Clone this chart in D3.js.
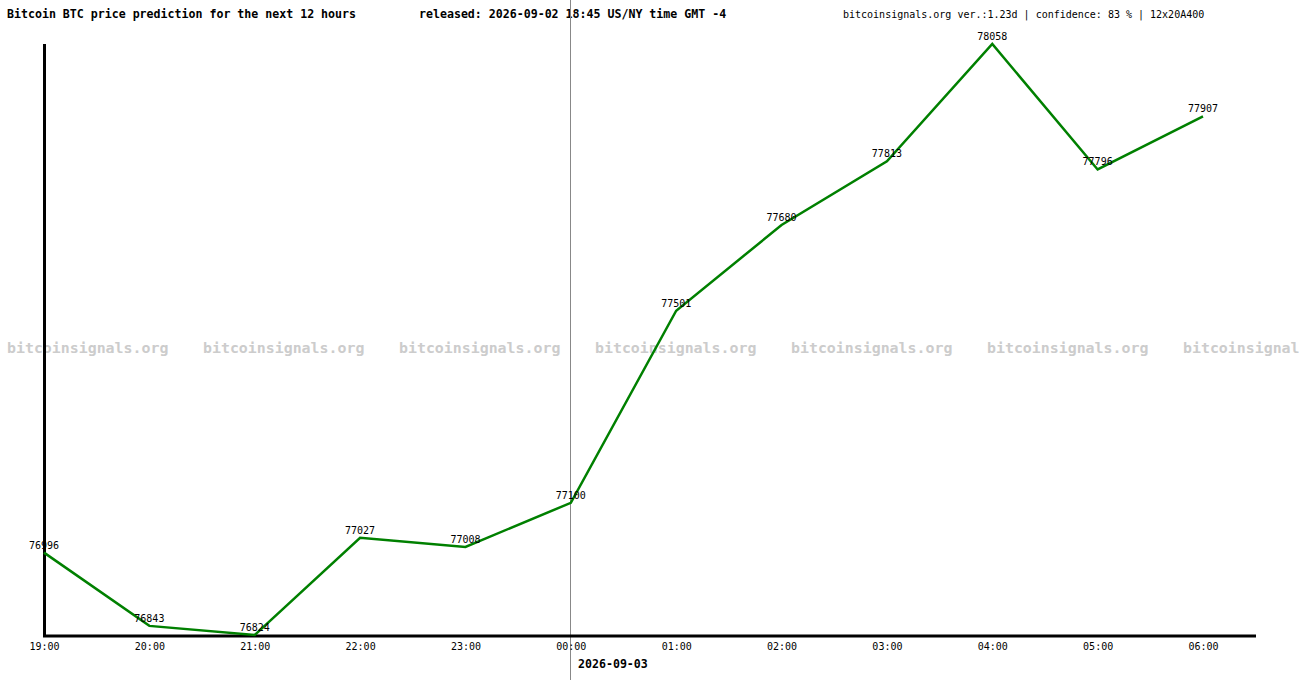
<!DOCTYPE html>
<html>
<head>
<meta charset="utf-8">
<script src="https://cdn.jsdelivr.net/npm/d3@7"></script>
<style>
html,body{margin:0;padding:0;background:#fff;}
svg{display:block;}
text{font-family:"DejaVu Sans Mono","Liberation Mono",monospace;}
</style>
</head>
<body>
<svg id="chart" width="1300" height="680"></svg>
<script>
const hours = ["19:00","20:00","21:00","22:00","23:00","00:00","01:00","02:00","03:00","04:00","05:00","06:00"];
const prices = [76996, 76843, 76824, 77027, 77008, 77100, 77501, 77680, 77813, 78058, 77796, 77907];
const titleText = "Bitcoin BTC price prediction for the next 12 hours";
const releasedText = "released: 2026-09-02 18:45 US/NY time GMT -4";
const infoText = "bitcoinsignals.org ver.:1.23d | confidence: 83 % | 12x20A400";
const dateText = "2026-09-03";
const watermark = "bitcoinsignals.org";
const watermarkSlots = [0,1,2,3,4,5,6];

const svg = d3.select("#chart");
const W = 1300, H = 680;

const x = d3.scaleLinear().domain([0, hours.length - 1]).range([44, 1203]);
const y = d3.scaleLinear().domain([d3.min(prices), d3.max(prices)]).range([635, 44]);
const wx = d3.scaleLinear().domain([0, 1]).range([7, 203]);

// watermark
svg.append("g").selectAll("text").data(watermarkSlots).join("text")
  .attr("x", d => wx(d)).attr("y", 353)
  .attr("font-size", 14.9).attr("font-weight", "bold")
  .attr("fill", "#cccccc")
  .text(watermark);

// header texts
svg.append("text").attr("x", 7).attr("y", 18).attr("font-size", 11.6).attr("font-weight", "bold")
  .attr("fill", "#000").text(titleText);
svg.append("text").attr("x", 419).attr("y", 18).attr("font-size", 11.6).attr("font-weight", "bold")
  .attr("fill", "#000").text(releasedText);
svg.append("text").attr("x", 843).attr("y", 18).attr("font-size", 10).attr("fill", "#000").text(infoText);

// vertical day separator
const dayIdx = hours.indexOf("00:00");
svg.append("line").attr("x1", x(dayIdx)).attr("x2", x(dayIdx)).attr("y1", 0).attr("y2", H)
  .attr("stroke", "#888").attr("stroke-width", 1).attr("shape-rendering", "crispEdges");

// axes
const yLine = d3.axisLeft(y).tickValues([]).tickSize(0);
svg.append("g").attr("transform", "translate(44.5,0)").call(yLine)
  .call(g => g.select(".domain").attr("stroke", "#000").attr("stroke-width", 3).attr("d", "M0,44V637"));

const xAxis = d3.axisBottom(x).ticks(hours.length).tickValues(d3.range(hours.length))
  .tickFormat(i => hours[i]).tickSize(0).tickPadding(7);
svg.append("g").attr("transform", "translate(0,636)").call(xAxis)
  .call(g => g.select(".domain").attr("stroke", "#000").attr("stroke-width", 3).attr("d", "M43,0H1256"))
  .call(g => g.selectAll(".tick text").attr("font-size", 10).attr("fill", "#000")
    .attr("font-family", "DejaVu Sans Mono, monospace"));

svg.append("text").attr("x", 578).attr("y", 668).attr("font-size", 11.6).attr("font-weight", "bold")
  .attr("fill", "#000").text(dateText);

// line
const line = d3.line().x((d, i) => x(i)).y(d => y(d));
svg.append("path").datum(prices).attr("d", line)
  .attr("fill", "none").attr("stroke", "#008000").attr("stroke-width", 2.5)
  .attr("stroke-linejoin", "miter");

// value labels
svg.append("g").selectAll("text").data(prices).join("text")
  .attr("x", (d, i) => x(i)).attr("y", d => y(d) - 4)
  .attr("text-anchor", "middle").attr("font-size", 10).attr("fill", "#000")
  .text(d => d);
</script>
</body>
</html>
